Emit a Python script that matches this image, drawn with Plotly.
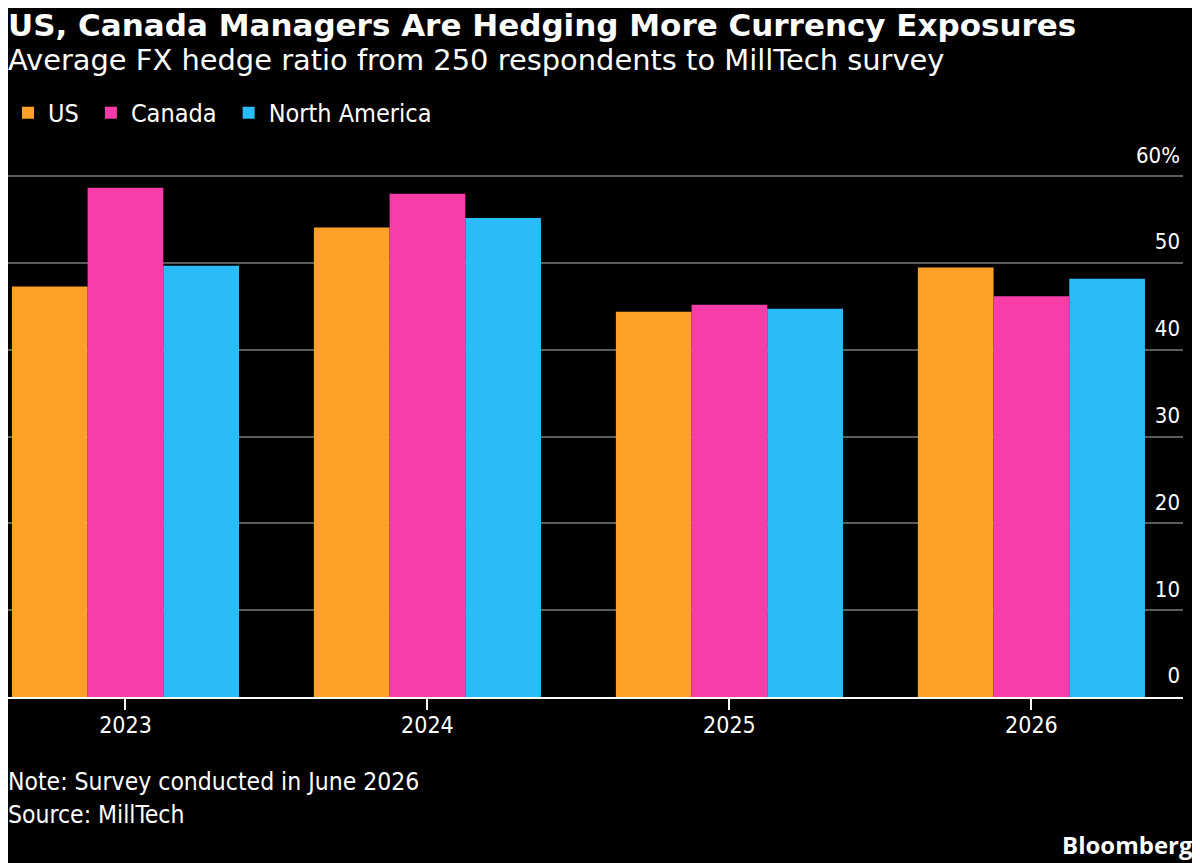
import plotly.graph_objects as go

# values (average FX hedge ratio, %)
years = ["2023", "2024", "2025", "2026"]
us = [47.3, 54.1, 44.4, 49.5]
canada = [58.7, 58.0, 45.2, 46.2]
north_america = [49.7, 55.2, 44.75, 48.2]

series_names = ["US", "Canada", "North America"]
colors = ["#FFA028", "#F83CA8", "#2ABBF8"]

y_ticks = [0, 10, 20, 30, 40, 50, 60]
y_tick_text = ["0", "10", "20", "30", "40", "50", "60%"]

FONT = "DejaVu Sans Condensed, sans-serif"
WIDE = "DejaVu Sans, sans-serif"
PAD = "\u00a0"  # a little extra room between legend entries

fig = go.Figure()
for name, vals, col in zip(series_names, [us, canada, north_america], colors):
    fig.add_trace(go.Bar(x=years, y=vals, name=name + PAD, marker=dict(color=col, line=dict(width=0))))

# page body has an 8px margin, so the figure is sized to end at the window edge
fig.update_layout(
    width=1192,
    height=855,
    paper_bgcolor="black",
    plot_bgcolor="black",
    font=dict(family=FONT, color="white", size=22),
    barmode="group",
    bargap=0.248,
    bargroupgap=0,
    margin=dict(l=0, r=17, t=125, b=166, autoexpand=False),
    legend=dict(
        orientation="h",
        xref="container", x=-0.008, xanchor="left",
        y=1.0355, yanchor="middle",
        font=dict(size=25, family=FONT),
        bgcolor="rgba(0,0,0,0)",
        traceorder="normal",
    ),
    xaxis=dict(
        range=[-0.389, 3.502],
        showline=True, linecolor="white", linewidth=2,
        ticks="outside", ticklen=11, tickcolor="white", tickwidth=2,
        tickfont=dict(size=23),
        ticklabelstandoff=-5,
        showgrid=False,
    ),
    yaxis=dict(
        side="right",
        range=[0, 65],
        tickvals=y_ticks, ticktext=y_tick_text,
        ticklabelposition="inside top",
        ticklabelshift=-6,
        tickfont=dict(size=22),
        showgrid=True, gridcolor="#5c5c5c", gridwidth=2,
        zeroline=False, showline=False,
    ),
    showlegend=True,
)

fig.add_annotation(
    text="<b>US, Canada Managers Are Hedging More Currency Exposures</b>",
    xref="paper", yref="paper", x=0, y=1.1915, xanchor="left", yanchor="middle",
    xshift=-2, showarrow=False, font=dict(size=31, family=WIDE, color="white"),
)
fig.add_annotation(
    text="Average FX hedge ratio from 250 respondents to MillTech survey",
    xref="paper", yref="paper", x=0, y=1.1294, xanchor="left", yanchor="middle",
    xshift=-2, showarrow=False, font=dict(size=28.9, family=WIDE, color="white"),
)
fig.add_annotation(
    text="Note: Survey conducted in June 2026",
    xref="paper", yref="paper", x=0, y=-0.1507, xanchor="left", yanchor="middle",
    xshift=-2, showarrow=False, font=dict(size=24.5, family=FONT, color="white"),
)
fig.add_annotation(
    text="Source: MillTech",
    xref="paper", yref="paper", x=0, y=-0.2092, xanchor="left", yanchor="middle",
    xshift=-2, showarrow=False, font=dict(size=24.5, family=FONT, color="white"),
)
fig.add_annotation(
    text="<b>Bloomberg</b>",
    xref="paper", yref="paper", x=1.01, y=-0.2624, xanchor="right", yanchor="middle",
    showarrow=False, font=dict(size=24, family="Open Sans, sans-serif", color="white"),
)

fig.write_html("out.html")
